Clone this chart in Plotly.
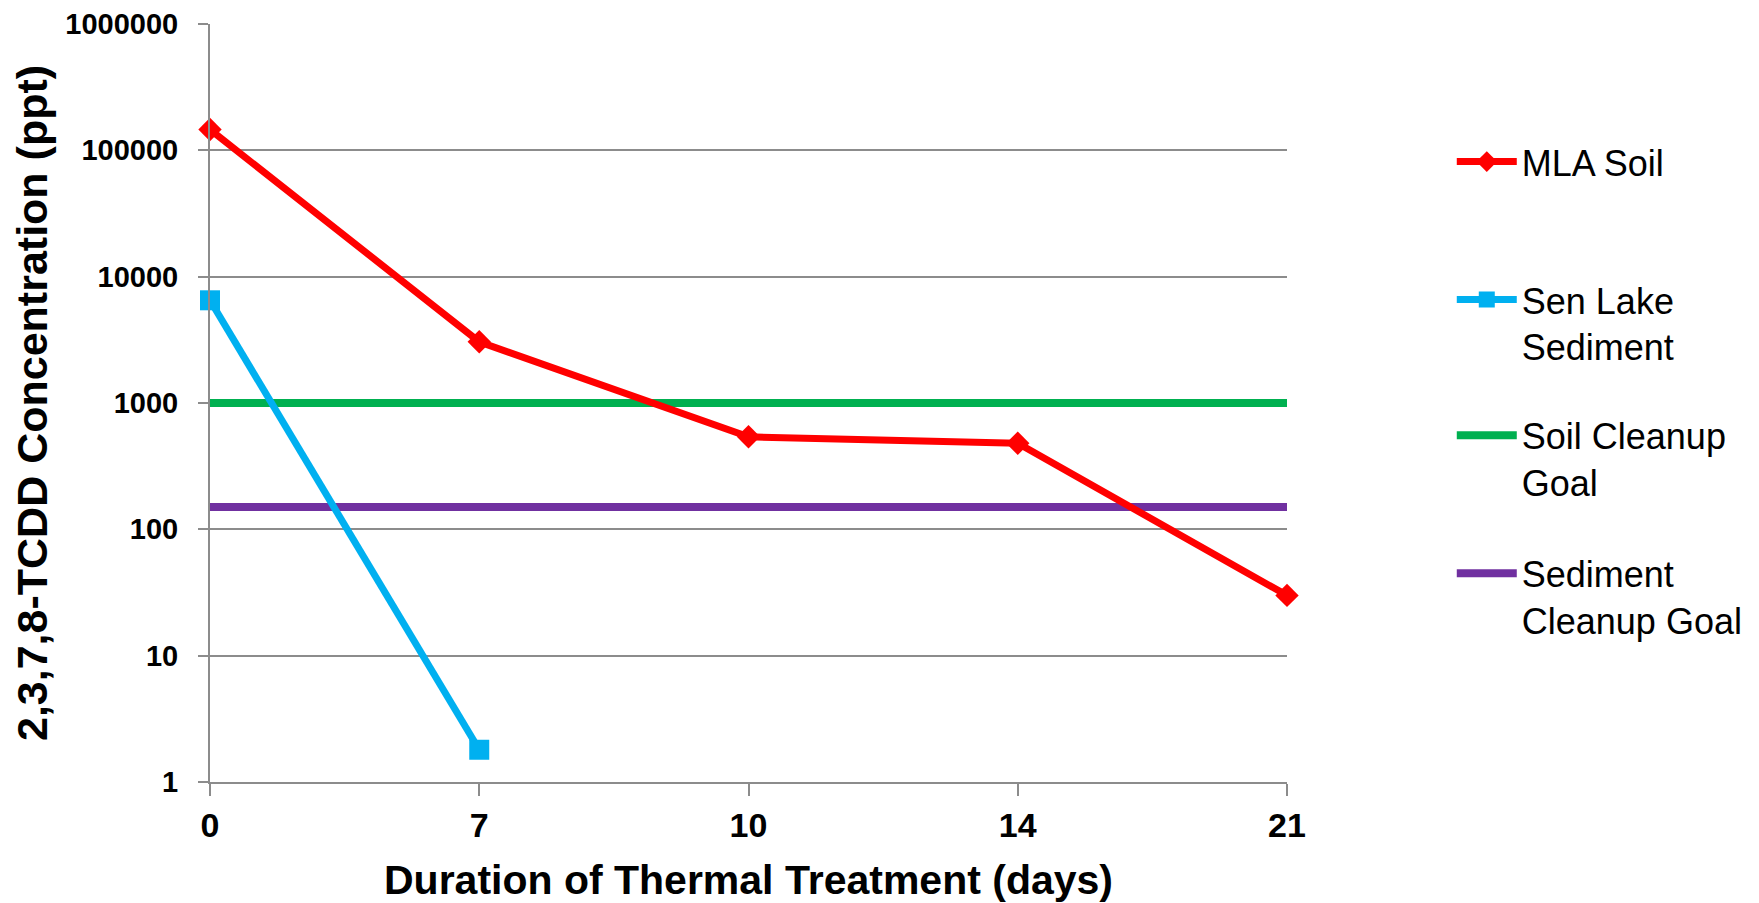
import plotly.graph_objects as go

days = ["0", "7", "10", "14", "21"]
mla_soil = [146000, 3050, 540, 480, 30]
sen_days = ["0", "7"]
sen_lake = [6500, 1.8]
soil_goal = [1000, 1000, 1000, 1000, 1000]
sediment_goal = [150, 150, 150, 150, 150]
y_ticks = [1, 10, 100, 1000, 10000, 100000, 1000000]
y_tick_labels = ["1", "10", "100", "1000", "10000", "100000", "1000000"]

FONT = "Liberation Sans, Arial, sans-serif"
GRID = "#8c8c8c"

fig = go.Figure()
fig.add_trace(go.Scatter(
    x=days, y=soil_goal, name="Soil Cleanup<br>Goal", mode="lines",
    line=dict(color="#00B050", width=8), cliponaxis=False,
    legend="legend3"))
fig.add_trace(go.Scatter(
    x=days, y=sediment_goal, name="Sediment<br>Cleanup Goal", mode="lines",
    line=dict(color="#7030A0", width=8), cliponaxis=False,
    legend="legend4"))
fig.add_trace(go.Scatter(
    x=days, y=mla_soil, name="MLA Soil", mode="lines+markers",
    line=dict(color="#FF0000", width=7), cliponaxis=False,
    marker=dict(symbol="diamond", size=18, color="#FF0000"),
    legend="legend"))
fig.add_trace(go.Scatter(
    x=sen_days, y=sen_lake, name="Sen Lake<br>Sediment", mode="lines+markers",
    line=dict(color="#00B0F0", width=7), cliponaxis=False,
    marker=dict(symbol="square", size=20, color="#00B0F0"),
    legend="legend2"))

leg_common = dict(font=dict(family=FONT, size=36, color="#000000"),
                  bgcolor="rgba(0,0,0,0)", xanchor="left", yanchor="top",
                  valign="top", itemwidth=60, tracegroupgap=0)

LX = 1.153
fig.update_layout(
    width=1743, height=895, autosize=False,
    margin=dict(l=202, r=464, t=16, b=121, autoexpand=False),
    paper_bgcolor="white", plot_bgcolor="white",
    font=dict(family=FONT, color="#000000"),
    showlegend=True,
    legend=dict(x=LX, y=0.858, **leg_common),
    legend2=dict(x=LX, y=0.676, **leg_common),
    legend3=dict(x=LX, y=0.497, **leg_common),
    legend4=dict(x=LX, y=0.315, **leg_common),
    xaxis=dict(
        type="category", categoryorder="array", categoryarray=days,
        range=[0, 4], showgrid=False, zeroline=False, automargin=False,
        showline=True, linecolor=GRID, linewidth=2,
        ticks="outside", ticklen=12, tickcolor=GRID, tickwidth=2,
        ticklabelstandoff=0,
        tickfont=dict(family=FONT, size=34, weight="bold"),
        title=dict(text="Duration of Thermal Treatment (days)",
                   font=dict(family=FONT, size=41, weight="bold"), standoff=34),
    ),
    yaxis=dict(
        type="log", range=[0, 6], automargin=False,
        tickvals=y_ticks, ticktext=y_tick_labels,
        showgrid=True, gridcolor=GRID, gridwidth=2,
        zeroline=False, showline=True, linecolor=GRID, linewidth=2,
        ticks="outside", ticklen=10, tickcolor=GRID, tickwidth=2,
        ticklabelstandoff=14,
        tickfont=dict(family=FONT, size=29, weight="bold"),
        title=dict(text="2,3,7,8-TCDD Concentration (ppt)",
                   font=dict(family=FONT, size=43, weight="bold"), standoff=11),
    ),
)

fig.write_html("out.html")
